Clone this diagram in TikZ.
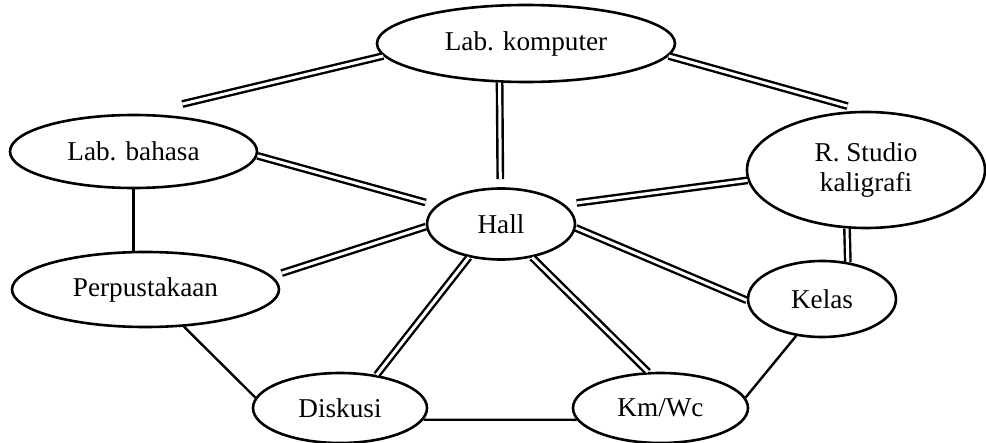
\documentclass[tikz,border=0pt]{standalone}
\usepackage{fontspec}
\setmainfont{Liberation Serif}
\usetikzlibrary{shapes.geometric}
\begin{document}
\begin{tikzpicture}[x=0.5pt,y=-0.5pt,
  room/.style={ellipse, draw, line width=1.3pt, inner sep=0pt,
    font=\fontsize{13.6pt}{15pt}\selectfont, align=center},
  dbl/.style={double, double distance=1.5pt, line width=1.2pt},
  sgl/.style={line width=1.2pt}]
\useasboundingbox (0,0) rectangle (986,443);
\node[room, minimum width=149pt, minimum height=38.5pt] (lk) at (526,43.5) {Lab. komputer};
\node[room, minimum width=123.5pt, minimum height=36.5pt] (lb) at (133.5,151.5) {Lab. bahasa};
\node[room, minimum width=119pt, minimum height=58pt] (rs) at (866,170) {R. Studio\\kaligrafi};
\node[room, minimum width=74pt, minimum height=35.5pt] (hall) at (501,224) {Hall};
\node[room, minimum width=133.5pt, minimum height=37.5pt] (pp) at (145.5,289.5) {Perpustakaan};
\node[room, minimum width=74pt, minimum height=38pt] (kelas) at (822,299) {Kelas};
\node[room, minimum width=87pt, minimum height=35pt] (disk) at (340,408) {Diskusi};
\node[room, minimum width=87.5pt, minimum height=35pt] (km) at (660.5,408) {Km/Wc};
% double connectors
\draw[dbl, shorten >=21pt] (lk.185) -- (lb.78);
\draw[dbl, shorten >=8.5pt] (lk.355) -- (rs.92);
\draw[dbl, shorten >=4pt] (lk.236) -- (hall.91);
\draw[dbl, shorten >=5.4pt] (lb.358) -- (hall.164);
\draw[dbl, shorten <=5pt] (pp.6) -- (hall.182);
\draw[dbl, shorten >=6pt] (rs.185) -- (hall.17);
\draw[dbl] (hall.357) -- (kelas.181);
\draw[dbl] (hall.226) -- (disk.42);
\draw[dbl] (hall.313) -- (km.109);
\draw[dbl] (rs.252) -- (kelas.55);
% single connectors
\draw[sgl] (lb.south) -- (lb.south |- pp.north);
\draw[sgl] (pp.316) -- (disk.173);
\draw[sgl] (disk.352) -- (km.188);
\draw[sgl] (kelas.235) -- (km.7);
\end{tikzpicture}
\end{document}
